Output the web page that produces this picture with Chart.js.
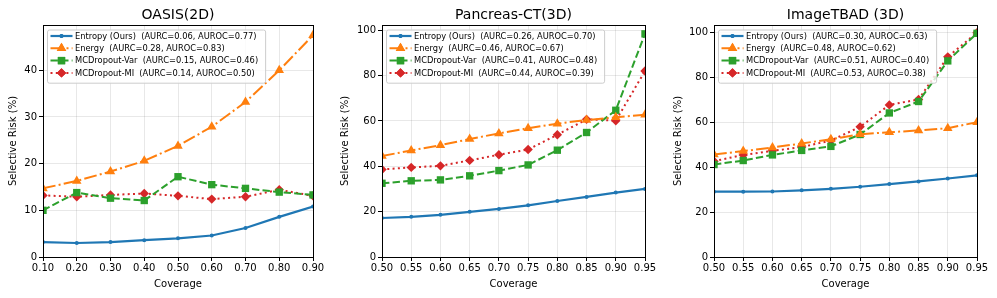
<!DOCTYPE html>
<html>
<head>
<meta charset="utf-8">
<script src="https://cdn.jsdelivr.net/npm/chart.js@4.4.1/dist/chart.umd.min.js"></script>
<style>
    body { margin: 0; background: #fff; }
    #wrap { position: relative; width: 997px; height: 298px; }
    .panel { position: absolute; top: 0; height: 298px; }
</style>
</head>
<body>
<div id="wrap">
    <div class="panel" style="left:0;width:330px"><canvas id="c1"></canvas></div>
    <div class="panel" style="left:332px;width:332px"><canvas id="c2"></canvas></div>
    <div class="panel" style="left:665px;width:332px"><canvas id="c3"></canvas></div>
</div>
<script>
// Series names shared by all three panels
const methodNames = ['Entropy (Ours)', 'Energy', 'MCDropout-Var', 'MCDropout-MI'];

// OASIS(2D)
const oasisCoverage = [0.10, 0.20, 0.30, 0.40, 0.50, 0.60, 0.70, 0.80, 0.90];
const oasisEntropy = [3.2, 3.0, 3.2, 3.6, 4.0, 4.6, 6.2, 8.6, 10.8];
const oasisEnergy = [14.7, 16.3, 18.3, 20.6, 23.8, 27.9, 33.2, 40.0, 47.5];
const oasisVar = [10.0, 13.8, 12.6, 12.1, 17.2, 15.5, 14.7, 13.9, 13.3];
const oasisMI = [13.2, 12.9, 13.3, 13.6, 13.1, 12.4, 12.9, 14.4, 13.1];
const oasisScores = ['(AURC=0.06, AUROC=0.77)', '(AURC=0.28, AUROC=0.83)', '(AURC=0.15, AUROC=0.46)', '(AURC=0.14, AUROC=0.50)'];
const oasisYTicks = [0, 10, 20, 30, 40];

// Pancreas-CT(3D)
const ctCoverage = [0.50, 0.55, 0.60, 0.65, 0.70, 0.75, 0.80, 0.85, 0.90, 0.95];
const ctEntropy = [17.2, 17.7, 18.6, 19.9, 21.2, 22.8, 24.7, 26.5, 28.4, 30.0];
const ctEnergy = [44.5, 47.0, 49.3, 52.0, 54.5, 56.8, 58.8, 60.4, 61.6, 62.7];
const ctVar = [32.5, 33.6, 34.0, 35.8, 38.1, 40.6, 47.1, 54.9, 64.7, 98.4];
const ctMI = [38.6, 39.5, 40.2, 42.6, 45.1, 47.4, 53.9, 60.7, 60.1, 82.0];
const ctScores = ['(AURC=0.26, AUROC=0.70)', '(AURC=0.46, AUROC=0.67)', '(AURC=0.41, AUROC=0.48)', '(AURC=0.44, AUROC=0.39)'];

// ImageTBAD (3D)
const tbadCoverage = [0.50, 0.55, 0.60, 0.65, 0.70, 0.75, 0.80, 0.85, 0.90, 0.95];
const tbadEntropy = [29.1, 29.1, 29.2, 29.7, 30.4, 31.3, 32.5, 33.7, 35.0, 36.4];
const tbadEnergy = [45.7, 47.2, 48.8, 50.6, 52.5, 54.7, 55.6, 56.4, 57.4, 60.1];
const tbadVar = [41.2, 43.0, 45.5, 47.5, 49.3, 54.6, 64.2, 69.3, 87.4, 99.7];
const tbadMI = [42.7, 45.5, 47.3, 49.0, 51.9, 58.0, 67.8, 70.2, 89.2, 100.0];
const tbadScores = ['(AURC=0.30, AUROC=0.63)', '(AURC=0.48, AUROC=0.62)', '(AURC=0.51, AUROC=0.40)', '(AURC=0.53, AUROC=0.38)'];

const pctYTicks = [0, 20, 40, 60, 80, 100];

// Line look per method (matplotlib tab10 + linestyles)
const styles = [
    { color: '#1f77b4', dash: [], point: 'circle', radius: 2, width: 2.2 },
    { color: '#ff7f0e', dash: [12.8, 3.2, 2, 3.2], point: 'triangle', radius: 5.5, width: 2 },
    { color: '#2ca02c', dash: [7.4, 3.2], point: 'rect', radius: 5.2, width: 2 },
    { color: '#d62728', dash: [2, 3.3], point: 'rectRot', radius: 4.7, width: 2 }
];

const FONT = "'DejaVu Sans', sans-serif";

// Title, full box frame and a matplotlib-like legend
const framePlugin = {
    id: 'frame',
    afterDraw(chart, args, opts) {
        const { ctx, chartArea: a } = chart;
        ctx.save();
        ctx.strokeStyle = '#000';
        ctx.lineWidth = 1;
        ctx.setLineDash([]);
        ctx.strokeRect(Math.round(a.left) + 0.5, Math.round(a.top) + 0.5,
            Math.round(a.right - a.left), Math.round(a.bottom - a.top));

        // title centred over the axes
        ctx.fillStyle = '#000';
        ctx.font = '14px ' + FONT;
        ctx.textAlign = 'center';
        ctx.textBaseline = 'middle';
        ctx.fillText(opts.title, (a.left + a.right) / 2, a.top - 10);

        // legend
        ctx.font = '8.3px ' + FONT;
        const labels = chart.data.datasets.map(d => d.label);
        const textW = Math.max(...labels.map(l => ctx.measureText(l).width));
        const bx = a.left + 4.5, by = a.top + 5;
        const rowH = 12.3;
        const bw = 31 + textW + 4, bh = rowH * labels.length + 4;
        ctx.fillStyle = 'rgba(255,255,255,0.8)';
        ctx.strokeStyle = '#cccccc';
        ctx.beginPath();
        ctx.roundRect(bx, by, bw, bh, 2);
        ctx.fill();
        ctx.stroke();
        chart.data.datasets.forEach((d, i) => {
            const s = styles[i];
            const cy = by + 6 + i * rowH;
            ctx.strokeStyle = s.color;
            ctx.lineWidth = s.width;
            ctx.setLineDash(s.dash);
            ctx.beginPath();
            ctx.moveTo(bx + 3, cy);
            ctx.lineTo(bx + 25, cy);
            ctx.stroke();
            ctx.setLineDash([]);
            ctx.fillStyle = s.color;
            Chart.helpers.drawPoint(ctx, { pointStyle: s.point, radius: s.radius, borderWidth: 0 }, bx + 14, cy);
            ctx.fill();
            ctx.fillStyle = '#000';
            ctx.textAlign = 'left';
            ctx.fillText(d.label, bx + 27.5, cy + 0.5);
        });
        ctx.restore();
    }
};

function makeChart(id, title, coverage, series, scores, xTicks, yTicks, yMax, yWidth, padRight) {
    const datasets = series.map((vals, i) => ({
        label: methodNames[i] + '  ' + scores[i],
        data: coverage.map((c, j) => ({ x: c, y: vals[j] })),
        borderColor: styles[i].color,
        backgroundColor: styles[i].color,
        borderWidth: styles[i].width,
        borderDash: styles[i].dash,
        pointStyle: styles[i].point,
        pointRadius: styles[i].radius,
        pointBorderWidth: 0,
        pointHoverRadius: styles[i].radius,
        tension: 0,
        clip: 0
    }));
    const gridStyle = {
        color: 'rgba(0,0,0,0.09)',
        borderDash: [1, 2],
        tickColor: '#000',
        tickLength: 4,
        tickBorderDash: [],
        tickWidth: 1
    };
    return new Chart(document.getElementById(id), {
        type: 'line',
        data: { datasets },
        options: {
            responsive: true,
            maintainAspectRatio: false,
            animation: false,
            events: [],
            layout: { padding: { top: 25, right: padRight, left: 0, bottom: 0 } },
            plugins: {
                legend: { display: false },
                tooltip: { enabled: false },
                frame: { title }
            },
            scales: {
                x: {
                    type: 'linear',
                    min: xTicks[0],
                    max: xTicks[xTicks.length - 1],
                    grid: gridStyle,
                    border: { display: false },
                    afterBuildTicks: s => { s.ticks = xTicks.map(v => ({ value: v })); },
                    afterFit: s => { s.height = 41; },
                    ticks: {
                        color: '#000',
                        font: { family: FONT, size: 10 },
                        padding: 1,
                        maxRotation: 0,
                        autoSkip: false,
                        callback: v => v.toFixed(2)
                    },
                    title: {
                        display: true,
                        text: 'Coverage',
                        color: '#000',
                        font: { family: FONT, size: 10 },
                        padding: { top: 0, bottom: 8 }
                    }
                },
                y: {
                    min: 0,
                    max: yMax,
                    grid: gridStyle,
                    border: { display: false },
                    afterBuildTicks: s => { s.ticks = yTicks.map(v => ({ value: v })); },
                    afterFit: s => { s.width = yWidth; },
                    ticks: {
                        color: '#000',
                        font: { family: FONT, size: 10 },
                        padding: 2
                    },
                    title: {
                        display: true,
                        text: 'Selective Risk (%)',
                        color: '#000',
                        font: { family: FONT, size: 10 },
                        padding: { top: 7, bottom: 0 }
                    }
                }
            }
        },
        plugins: [framePlugin]
    });
}

makeChart('c1', 'OASIS(2D)', oasisCoverage, [oasisEntropy, oasisEnergy, oasisVar, oasisMI],
    oasisScores, oasisCoverage, oasisYTicks, 49.7, 43, 17);
makeChart('c2', 'Pancreas-CT(3D)', ctCoverage, [ctEntropy, ctEnergy, ctVar, ctMI],
    ctScores, ctCoverage, pctYTicks, 102.3, 50, 19);
makeChart('c3', 'ImageTBAD (3D)', tbadCoverage, [tbadEntropy, tbadEnergy, tbadVar, tbadMI],
    tbadScores, tbadCoverage, pctYTicks, 103.4, 49, 20);
</script>
</body>
</html>
